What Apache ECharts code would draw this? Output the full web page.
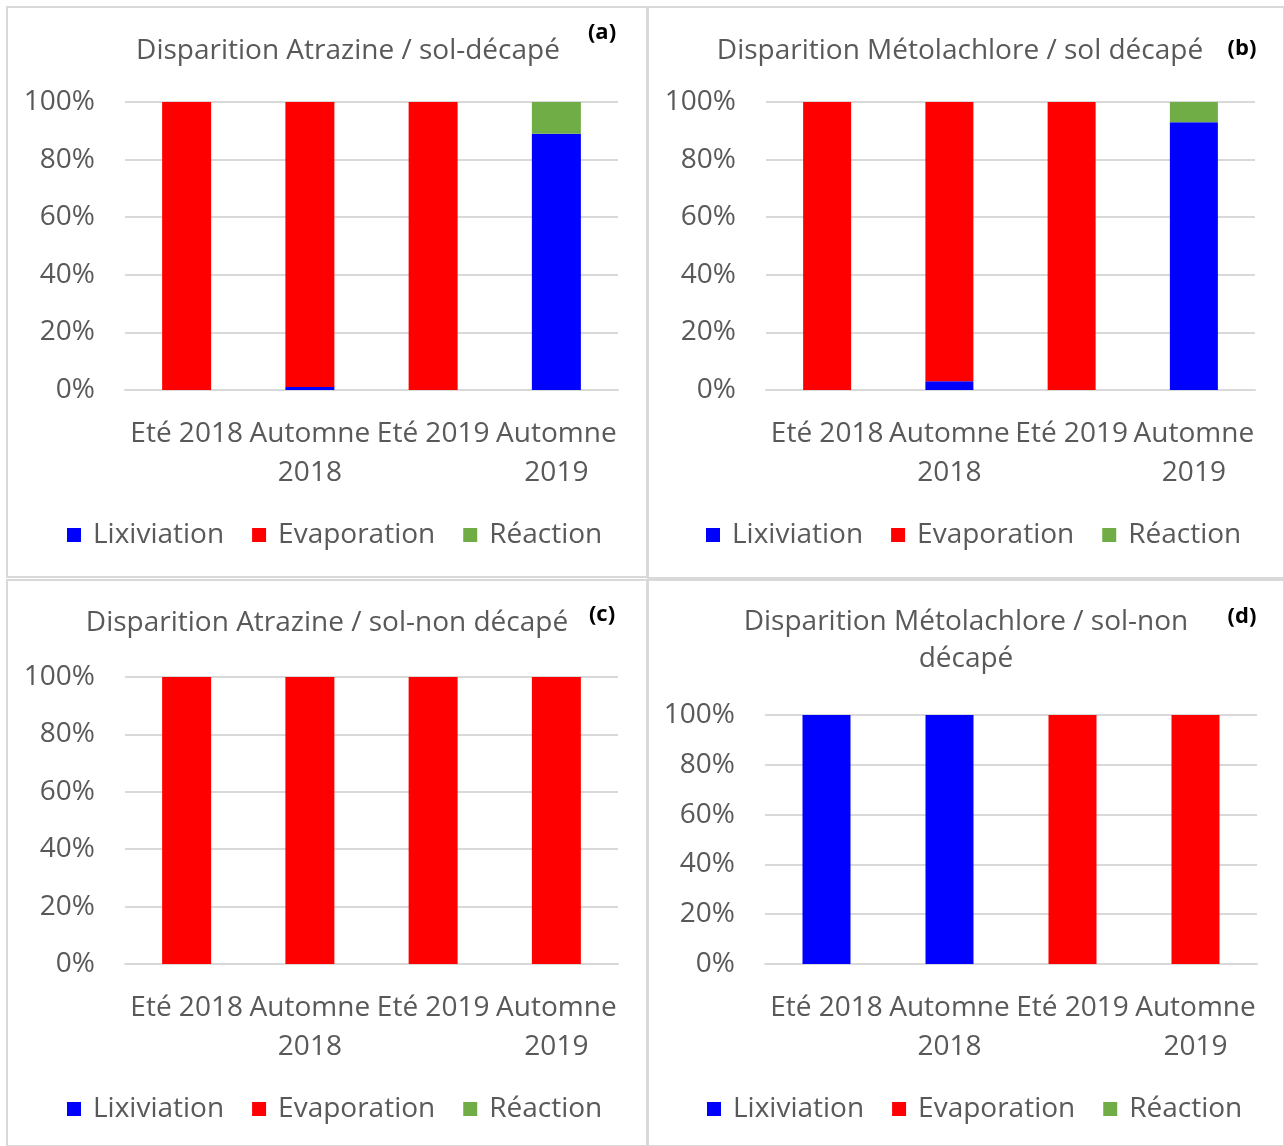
<!DOCTYPE html>
<html>
<head>
<meta charset="utf-8">
<script src="https://cdn.jsdelivr.net/npm/echarts@6/dist/echarts.min.js"></script>
<style>
  html, body { margin: 0; padding: 0; background: #fff; }
  #chart { width: 1284px; height: 1146px; }
</style>
</head>
<body>
<div id="chart"></div>
<script>
// categories shared by all four panels
const categories = ["Eté 2018", "Automne\n2018", "Eté 2019", "Automne\n2019"];
const seriesNames = ["Lixiviation", "Evaporation", "Réaction"];
const seriesColors = ["#0000ff", "#ff0000", "#70ad47"];

// (a) Atrazine / sol-décapé
const lixA = [0, 1, 0, 89];
const evapA = [100, 99, 100, 0];
const reacA = [0, 0, 0, 11];
// (b) Métolachlore / sol décapé
const lixB = [0, 3, 0, 93];
const evapB = [100, 97, 100, 0];
const reacB = [0, 0, 0, 7];
// (c) Atrazine / sol-non décapé
const lixC = [0, 0, 0, 0];
const evapC = [100, 100, 100, 100];
const reacC = [0, 0, 0, 0];
// (d) Métolachlore / sol-non décapé
const lixD = [100, 100, 0, 0];
const evapD = [0, 0, 100, 100];
const reacD = [0, 0, 0, 0];

const panelData = [
  [lixA, evapA, reacA],
  [lixB, evapB, reacB],
  [lixC, evapC, reacC],
  [lixD, evapD, reacD],
];
const titles = [
  "Disparition Atrazine / sol-décapé",
  "Disparition Métolachlore / sol décapé",
  "Disparition Atrazine / sol-non décapé",
  "Disparition Métolachlore / sol-non\ndécapé",
];
const tags = ["(a)", "(b)", "(c)", "(d)"];

const FONT = "Open Sans";
const GREY = "#595959";
const LINE = "#d9d9d9";

// layout of each panel (page pixels)
const panels = [
  { box: [7, 7, 640, 570], grid: [125, 102, 493, 288], title: [348, 51], tag: [602, 33], legend: [62, 516], barW: 49 },
  { box: [648, 7, 636, 571], grid: [766, 102, 489, 288], title: [960, 51], tag: [1242, 49], legend: [701, 516], barW: 48 },
  { box: [7, 580, 640, 566], grid: [125, 677, 493, 287], title: [327, 623], tag: [602, 615], legend: [62, 1090], barW: 49 },
  { box: [648, 580, 636, 566], grid: [765, 715, 492, 249], title: [966, 641], tag: [1242, 617], legend: [702, 1090], barW: 48 },
];

const grid = [], xAxis = [], yAxis = [], legend = [], series = [], graphic = [];

panels.forEach(function (p, i) {
  graphic.push({
    type: "rect",
    shape: { x: p.box[0], y: p.box[1], width: p.box[2], height: p.box[3] },
    style: { fill: "none", stroke: LINE, lineWidth: 2 },
    silent: true,
  });
  graphic.push({
    type: "text",
    x: p.title[0],
    y: p.title[1],
    style: {
      text: titles[i],
      fill: GREY,
      font: "28px '" + FONT + "'",
      align: "center",
      verticalAlign: "middle",
      lineHeight: 37,
    },
  });
  graphic.push({
    type: "text",
    x: p.tag[0],
    y: p.tag[1],
    style: {
      text: tags[i],
      fill: "#000",
      font: "bold 22px '" + FONT + "'",
      align: "center",
      verticalAlign: "middle",
    },
  });

  grid.push({ left: p.grid[0], top: p.grid[1], width: p.grid[2], height: p.grid[3] });
  xAxis.push({
    type: "category",
    gridIndex: i,
    data: categories,
    axisLine: { lineStyle: { color: LINE, width: 2 } },
    axisTick: { show: false },
    axisLabel: {
      interval: 0,
      color: GREY,
      fontFamily: FONT,
      fontSize: 28,
      lineHeight: 39,
      margin: 25,
    },
  });
  yAxis.push({
    type: "value",
    gridIndex: i,
    min: 0,
    max: 100,
    interval: 20,
    axisLine: { show: false },
    axisTick: { show: false },
    splitLine: { lineStyle: { color: LINE, width: 2 } },
    axisLabel: {
      formatter: "{value}%",
      color: GREY,
      fontFamily: FONT,
      fontSize: 28,
      margin: 30,
      padding: [4, 0, 0, 0],
    },
  });
  legend.push({
    left: p.legend[0],
    top: p.legend[1],
    data: seriesNames,
    itemWidth: 14,
    itemHeight: 14,
    itemGap: 28,
    icon: "rect",
    textStyle: { color: GREY, fontFamily: FONT, fontSize: 28, padding: [0, 0, 0, 7] },
  });
  seriesNames.forEach(function (name, k) {
    series.push({
      name: name,
      type: "bar",
      stack: "panel" + i,
      xAxisIndex: i,
      yAxisIndex: i,
      barWidth: p.barW,
      itemStyle: { color: seriesColors[k] },
      data: panelData[i][k],
    });
  });
});

const chart = echarts.init(document.getElementById("chart"));
chart.setOption({
  animation: false,
  backgroundColor: "#fff",
  grid: grid,
  xAxis: xAxis,
  yAxis: yAxis,
  legend: legend,
  series: series,
  graphic: graphic,
});
</script>
</body>
</html>
